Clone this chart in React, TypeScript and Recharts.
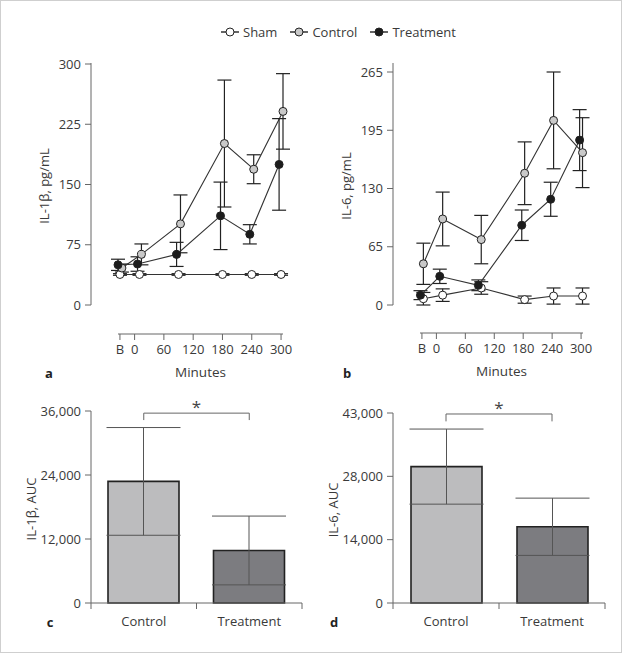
import React from 'react';
import { LineChart, Line, XAxis, YAxis, ErrorBar, BarChart, Bar, Cell, ReferenceLine } from 'recharts';

// ---------- data ----------
const timeTicks = [-30, 0, 60, 120, 180, 240, 300];
const timeTickLabels = ['B', '0', '60', '120', '180', '240', '300'];
const timeDomain = [-34, 304];
const sampleTimes = [-30, 10, 90, 180, 240, 300];

const il1bSham = [38, 38, 38, 38, 38, 38];
const il1bShamErr = [1, 1, 1, 1, 1, 1];
const il1bControl = [46, 63, 101, 201, 169, 241];
const il1bControlErr = [5, 13, 36, 79, 18, 47];
const il1bTreatment = [50, 51, 63, 111, 88, 175];
const il1bTreatmentErr = [7, 9, 15, 42, 12, 57];

const il6Sham = [7, 11, 19, 6, 10, 10];
const il6ShamErr = [7, 7, 7, 4, 9, 9];
const il6Control = [46, 96, 73, 147, 206, 170];
const il6ControlErr = [23, 30, 27, 35, 54, 39];
const il6Treatment = [11, 32, 22, 89, 118, 184];
const il6TreatmentErr = [5, 8, 6, 17, 19, 34];

const il1bTicks = [0, 75, 150, 225, 300];
const il6Ticks = [0, 65, 130, 195, 260];
const il6TickLabels = ['0', '65', '130', '195', '265'];

const groups = ['Control', 'Treatment'];
const il1bAuc = [22800, 9850];
const il1bAucErr = [10100, 6450];
const il6Auc = [30150, 16850];
const il6AucErr = [8300, 6330];
const il1bAucTicks = [0, 12000, 24000, 36000];
const il1bAucTickLabels = ['0', '12,000', '24,000', '36,000'];
const il6AucTicks = [0, 14000, 28000, 42000];
const il6AucTickLabels = ['0', '14,000', '28,000', '43,000'];

// significance brackets (value units)
const bracketC = { top: 35600, foot: 34300 };
const bracketD = { top: 41780, foot: 40150 };

// small horizontal dodge (minutes) per series so overlapping error bars stay visible
const dodgeA = { sham: 0, control: 4, treatment: -4 };
const dodgeB = { sham: 3, control: 3, treatment: -3 };

// ---------- styles ----------
const AXIS = '#666';
const TXT = '#3a3a3a';
const LINE = '#333';
const FONT = "'Open Sans', 'Noto Sans', sans-serif";
const SHAM_FILL = '#ffffff';
const CONTROL_FILL = '#c9c9c9';
const TREAT_FILL = '#1c1c1c';
const BAR_FILLS = ['#bcbcbe', '#7c7c80'];

const mk = (vals: number[], errs: number[], dodge: number) =>
  sampleTimes.map((t, i) => ({ t: t + dodge, v: vals[i], e: errs[i] }));

const yDecor = (title: string, titleX: number, padBottom: number, drawLine: boolean) => (props: any) => {
  const vb = props.viewBox || { x: 0, y: 0, width: 0, height: 0 };
  const lx = vb.x + vb.width;
  const y0 = vb.y;
  const y1 = vb.y + vb.height - padBottom;
  const cy = (y0 + y1) / 2 + 2;
  return (
    <g>
      {drawLine && <line x1={lx} x2={lx} y1={y0} y2={y1} stroke={AXIS} strokeWidth={1} />}
      <text
        x={titleX}
        y={cy}
        transform={`rotate(-90 ${titleX} ${cy})`}
        textAnchor="middle"
        dominantBaseline="central"
        fontSize={13}
        fontFamily={FONT}
        fill={TXT}
      >
        {title}
      </text>
    </g>
  );
};

const xDecor = (padL: number, padR: number) => (props: any) => {
  const vb = props.viewBox || { x: 0, y: 0, width: 0, height: 0 };
  const xa = vb.x + padL;
  const xb = vb.x + vb.width - padR;
  return (
    <g>
      <line x1={xa} x2={xb} y1={vb.y} y2={vb.y} stroke={AXIS} strokeWidth={1} />
      <text x={(xa + xb) / 2} y={vb.y + 43} textAnchor="middle" fontSize={13.5} fontFamily={FONT} fill={TXT}>
        Minutes
      </text>
    </g>
  );
};

const BarTick = (props: any) => {
  const { x, y, payload, index, band } = props;
  const axisY = y - 8;
  return (
    <g>
      {index === 0 && <line x1={x - band / 2} x2={x - band / 2} y1={axisY} y2={axisY + 6} stroke={AXIS} />}
      <line x1={x + band / 2} x2={x + band / 2} y1={axisY} y2={axisY + 6} stroke={AXIS} />
      <text x={x} y={axisY + 23} textAnchor="middle" fontSize={13} fontFamily={FONT} fill={TXT}>
        {payload.value}
      </text>
    </g>
  );
};

const dotStyle = (fill: string) => ({ r: 4, fill, stroke: '#222', strokeWidth: 1 });

type TimePanelProps = {
  left: number;
  marginRight: number;
  padL: number;
  padR: number;
  padTop: number;
  padBottom: number;
  xHeight: number;
  domainMax: number;
  ticks: number[];
  tickLabels: string[];
  title: string;
  sham: any[];
  control: any[];
  treatment: any[];
};

function TimePanel(p: TimePanelProps) {
  return (
    <div style={{ position: 'absolute', left: p.left, top: 0 }}>
      <LineChart width={310} height={400} margin={{ top: 63, right: p.marginRight, bottom: 0, left: 0 }}>
        <XAxis
          dataKey="t"
          type="number"
          domain={timeDomain}
          ticks={timeTicks}
          interval={0}
          padding={{ left: p.padL, right: p.padR }}
          height={p.xHeight}
          axisLine={false}
          tickLine={{ stroke: AXIS }}
          tickSize={6}
          tickMargin={5}
          tick={{ fontSize: 13, fill: TXT, fontFamily: FONT }}
          tickFormatter={(v: number) => timeTickLabels[timeTicks.indexOf(v)]}
          label={xDecor(p.padL, p.padR)}
        />
        <YAxis
          type="number"
          domain={[0, p.domainMax]}
          ticks={p.ticks}
          interval={0}
          width={91}
          padding={{ top: p.padTop, bottom: p.padBottom }}
          axisLine={false}
          tickLine={{ stroke: AXIS }}
          tickSize={6}
          tickMargin={4}
          tick={{ fontSize: 13, fill: TXT, fontFamily: FONT }}
          tickFormatter={(v: number) => p.tickLabels[p.ticks.indexOf(v)]}
          label={yDecor(p.title, 44, p.padBottom, true)}
        />
        <Line data={p.sham} dataKey="v" stroke={LINE} strokeWidth={1.1} dot={dotStyle(SHAM_FILL)} activeDot={false} isAnimationActive={false}>
          <ErrorBar dataKey="e" width={7} stroke="#222" strokeWidth={1.2} isAnimationActive={false} />
        </Line>
        <Line data={p.control} dataKey="v" stroke={LINE} strokeWidth={1.1} dot={dotStyle(CONTROL_FILL)} activeDot={false} isAnimationActive={false}>
          <ErrorBar dataKey="e" width={7} stroke="#222" strokeWidth={1.2} isAnimationActive={false} />
        </Line>
        <Line data={p.treatment} dataKey="v" stroke={LINE} strokeWidth={1.1} dot={dotStyle(TREAT_FILL)} activeDot={false} isAnimationActive={false}>
          <ErrorBar dataKey="e" width={7} stroke="#222" strokeWidth={1.2} isAnimationActive={false} />
        </Line>
      </LineChart>
    </div>
  );
}

type AucPanelProps = {
  left: number;
  marginTop: number;
  marginRight: number;
  values: number[];
  errs: number[];
  ticks: number[];
  tickLabels: string[];
  domainMax: number;
  title: string;
  bracket: { top: number; foot: number };
};

function AucPanel(p: AucPanelProps) {
  const data = groups.map((g, i) => ({ g, v: p.values[i], e: p.errs[i] }));
  const width = 310;
  const band = (width - 91 - p.marginRight) / groups.length;
  const br = { stroke: '#666', strokeWidth: 1 };
  return (
    <div style={{ position: 'absolute', left: p.left, top: 385 }}>
      <BarChart width={width} height={260} data={data} margin={{ top: p.marginTop, right: p.marginRight, bottom: 0, left: 0 }}>
        <XAxis
          dataKey="g"
          height={42}
          interval={0}
          axisLine={{ stroke: AXIS }}
          tickLine={false}
          tickSize={6}
          tickMargin={2}
          tick={<BarTick band={band} />}
        />
        <YAxis
          type="number"
          domain={[0, p.domainMax]}
          ticks={p.ticks}
          interval={0}
          width={91}
          axisLine={{ stroke: AXIS }}
          tickLine={{ stroke: AXIS }}
          tickSize={6}
          tickMargin={4}
          tick={{ fontSize: 13, fill: TXT, fontFamily: FONT }}
          tickFormatter={(v: number) => p.tickLabels[p.ticks.indexOf(v)]}
          label={yDecor(p.title, 31, 0, false)}
        />
        <Bar dataKey="v" barSize={71} stroke="#222" strokeWidth={1.6} isAnimationActive={false}>
          {data.map((d, i) => (
            <Cell key={d.g} fill={BAR_FILLS[i]} />
          ))}
          <ErrorBar dataKey="e" width={37} stroke="#555" strokeWidth={1} isAnimationActive={false} />
        </Bar>
        <ReferenceLine
          segment={[
            { x: groups[0], y: p.bracket.top },
            { x: groups[1], y: p.bracket.top },
          ]}
          {...br}
          label={{ value: '*', position: 'top', offset: 0, fontSize: 17, fill: '#444', fontFamily: FONT }}
        />
        <ReferenceLine
          segment={[
            { x: groups[0], y: p.bracket.top },
            { x: groups[0], y: p.bracket.foot },
          ]}
          {...br}
        />
        <ReferenceLine
          segment={[
            { x: groups[1], y: p.bracket.top },
            { x: groups[1], y: p.bracket.foot },
          ]}
          {...br}
        />
      </BarChart>
    </div>
  );
}

const LegendIcon = ({ fill }: { fill: string }) => (
  <svg width={18} height={10} style={{ display: 'block' }}>
    <line x1={0} x2={18} y1={5} y2={5} stroke={LINE} strokeWidth={1.5} />
    <circle cx={9} cy={5} r={4} fill={fill} stroke="#222" strokeWidth={1} />
  </svg>
);

const legendItems = [
  { name: 'Sham', fill: SHAM_FILL },
  { name: 'Control', fill: CONTROL_FILL },
  { name: 'Treatment', fill: TREAT_FILL },
];

const letter = (ch: string, x: number, y: number) => (
  <div
    style={{
      position: 'absolute',
      left: x - 10,
      top: y - 10,
      width: 20,
      height: 20,
      lineHeight: '20px',
      textAlign: 'center',
      fontWeight: 700,
      fontSize: 13,
      color: '#222',
      fontFamily: FONT,
    }}
  >
    {ch}
  </div>
);

export default function App() {
  return (
    <div
      style={{
        position: 'absolute',
        left: 0,
        top: 0,
        width: 622,
        height: 653,
        background: '#fff',
        fontFamily: FONT,
        overflow: 'hidden',
      }}
    >
      <div
        style={{
          position: 'absolute',
          left: 221,
          top: 22,
          height: 20,
          display: 'flex',
          alignItems: 'center',
          fontSize: 13,
          color: TXT,
        }}
      >
        {legendItems.map((it, i) => (
          <div key={it.name} style={{ display: 'flex', alignItems: 'center', marginLeft: i === 0 ? 0 : 13 }}>
            <LegendIcon fill={it.fill} />
            <span style={{ marginLeft: 4 }}>{it.name}</span>
          </div>
        ))}
      </div>

      <TimePanel
        left={0}
        marginRight={15}
        padL={27}
        padR={12}
        padTop={1}
        padBottom={29}
        xHeight={66}
        domainMax={300}
        ticks={il1bTicks}
        tickLabels={il1bTicks.map(String)}
        title="IL-1β, pg/mL"
        sham={mk(il1bSham, il1bShamErr, dodgeA.sham)}
        control={mk(il1bControl, il1bControlErr, dodgeA.control)}
        treatment={mk(il1bTreatment, il1bTreatmentErr, dodgeA.treatment)}
      />
      <TimePanel
        left={302}
        marginRight={12}
        padL={27}
        padR={17}
        padTop={9}
        padBottom={28}
        xHeight={67}
        domainMax={260}
        ticks={il6Ticks}
        tickLabels={il6TickLabels}
        title="IL-6, pg/mL"
        sham={mk(il6Sham, il6ShamErr, dodgeB.sham)}
        control={mk(il6Control, il6ControlErr, dodgeB.control)}
        treatment={mk(il6Treatment, il6TreatmentErr, dodgeB.treatment)}
      />

      <AucPanel
        left={0}
        marginTop={26}
        marginRight={8}
        values={il1bAuc}
        errs={il1bAucErr}
        ticks={il1bAucTicks}
        tickLabels={il1bAucTickLabels}
        domainMax={36000}
        title="IL-1β, AUC"
        bracket={bracketC}
      />
      <AucPanel
        left={302}
        marginTop={28}
        marginRight={7}
        values={il6Auc}
        errs={il6AucErr}
        ticks={il6AucTicks}
        tickLabels={il6AucTickLabels}
        domainMax={42000}
        title="IL-6, AUC"
        bracket={bracketD}
      />

      {letter('a', 49, 373)}
      {letter('b', 347, 373)}
      {letter('c', 50, 622)}
      {letter('d', 334, 622)}

      <div
        style={{
          position: 'absolute',
          left: 0,
          top: 0,
          width: 622,
          height: 653,
          boxSizing: 'border-box',
          border: '1px solid #cfcfcf',
          pointerEvents: 'none',
        }}
      />
    </div>
  );
}
